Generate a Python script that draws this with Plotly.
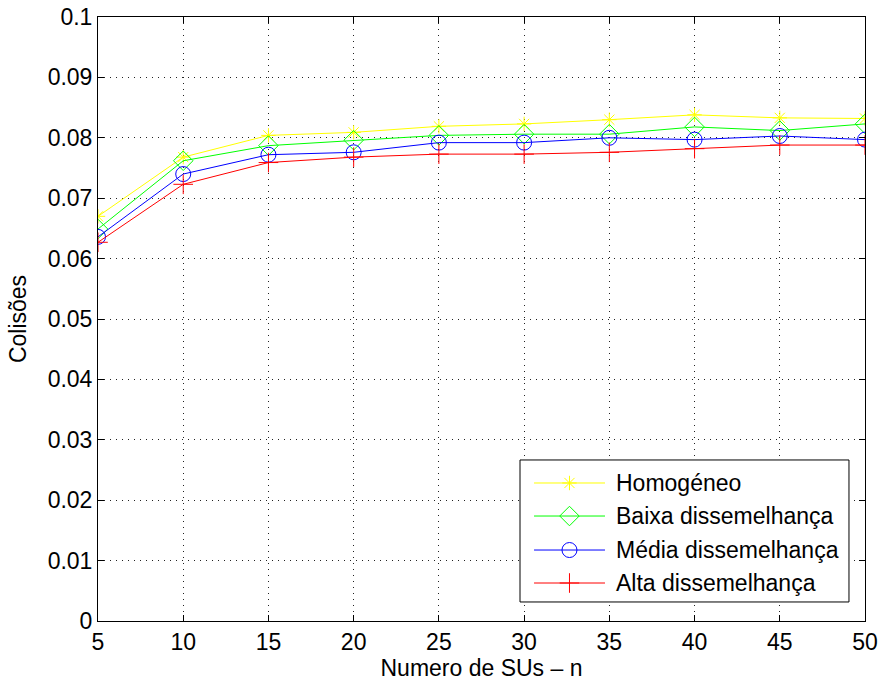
import plotly.graph_objects as go

n_sus = [5, 10, 15, 20, 25, 30, 35, 40, 45, 50]

homogeneo = [0.0670, 0.0768, 0.0804, 0.0809, 0.0819, 0.0823, 0.0830, 0.0838, 0.0833, 0.0832]
baixa = [0.0649, 0.0762, 0.0787, 0.0796, 0.0804, 0.0806, 0.0806, 0.0818, 0.0812, 0.0823]
media = [0.0636, 0.0740, 0.0772, 0.0776, 0.0792, 0.0792, 0.0800, 0.0797, 0.0803, 0.0797]
alta = [0.0627, 0.0723, 0.0759, 0.0768, 0.0773, 0.0773, 0.0776, 0.0782, 0.0788, 0.0788]

series_names = ["Homogéneo", "Baixa dissemelhança", "Média dissemelhança", "Alta dissemelhança"]

x_ticks = [5, 10, 15, 20, 25, 30, 35, 40, 45, 50]
y_ticks = [0, 0.01, 0.02, 0.03, 0.04, 0.05, 0.06, 0.07, 0.08, 0.09, 0.1]
y_tick_text = ["0", "0.01", "0.02", "0.03", "0.04", "0.05", "0.06", "0.07", "0.08", "0.09", "0.1"]

series_values = [homogeneo, baixa, media, alta]
colors = ["#ffff00", "#00ff00", "#0000ff", "#ff0000"]
symbols = ["asterisk-open", "diamond-open", "circle-open", "cross-thin-open"]
sizes = [12, 15, 15, 14]

FONT = "Liberation Sans, Arial, Helvetica, sans-serif"
FS = 23

fig = go.Figure()
for name, ys, color, symbol, size in zip(series_names, series_values, colors, symbols, sizes):
    fig.add_trace(go.Scatter(
        x=n_sus, y=ys, name=name, mode="lines+markers", showlegend=False,
        line=dict(color=color, width=1),
        marker=dict(symbol=symbol, size=size, color=color,
                    line=dict(color=color, width=1)),
    ))

# Boxed legend in the lower right of the axes, laid out on an overlay
# axis pair that spans the plot area from 0 to 1 in both directions.
box_x0, box_x1, box_y0, box_y1 = 0.5502, 0.9791, 0.0315, 0.2666
row_y = [0.2285, 0.1738, 0.1175, 0.0629]
line_x0, line_x1, marker_x, text_x = 0.5685, 0.6610, 0.6147, 0.6728

fig.add_trace(go.Scatter(
    x=[box_x0, box_x1, box_x1, box_x0, box_x0],
    y=[box_y0, box_y0, box_y1, box_y1, box_y0],
    xaxis="x2", yaxis="y2", mode="lines", fill="toself", fillcolor="white",
    line=dict(color="black", width=1), showlegend=False, hoverinfo="skip",
))

for name, color, symbol, size, ry in zip(series_names, colors, symbols, sizes, row_y):
    fig.add_trace(go.Scatter(
        x=[line_x0, line_x1], y=[ry, ry], xaxis="x2", yaxis="y2",
        mode="lines", line=dict(color=color, width=1),
        showlegend=False, hoverinfo="skip",
    ))
    fig.add_trace(go.Scatter(
        x=[marker_x], y=[ry], xaxis="x2", yaxis="y2",
        mode="markers", showlegend=False, hoverinfo="skip",
        marker=dict(symbol=symbol, size=size, color=color,
                    line=dict(color=color, width=1)),
    ))
    fig.add_annotation(x=text_x, y=ry, xref="paper", yref="paper",
                       text=name, showarrow=False, xanchor="left", yanchor="middle",
                       font=dict(family=FONT, size=FS, color="black"))

axis_common = dict(
    showline=True, linecolor="black", linewidth=1, mirror="ticks",
    ticks="inside", ticklen=6, tickcolor="black",
    showgrid=True, gridcolor="#222222", gridwidth=1, griddash="1px,5px",
    zeroline=False, automargin=False,
    tickfont=dict(family=FONT, size=FS, color="black"),
)

fig.update_layout(
    width=878, height=684,
    margin=dict(l=98, r=13, t=17, b=63),
    paper_bgcolor="white", plot_bgcolor="white",
    font=dict(family=FONT, size=FS, color="black"),
    xaxis=dict(range=[5, 50], tickvals=x_ticks,
               title=dict(text="Numero de SUs \u2013 n", standoff=2,
                          font=dict(family=FONT, size=FS)),
               **axis_common),
    yaxis=dict(range=[0, 0.1], tickvals=y_ticks, ticktext=y_tick_text,
               title=dict(text="Colisões", standoff=14,
                          font=dict(family=FONT, size=FS)),
               **axis_common),
    xaxis2=dict(range=[0, 1], domain=[0, 1], overlaying="x", visible=False,
                fixedrange=True),
    yaxis2=dict(range=[0, 1], domain=[0, 1], overlaying="y", visible=False,
                fixedrange=True),
    showlegend=False,
)

fig.write_html("out.html")
